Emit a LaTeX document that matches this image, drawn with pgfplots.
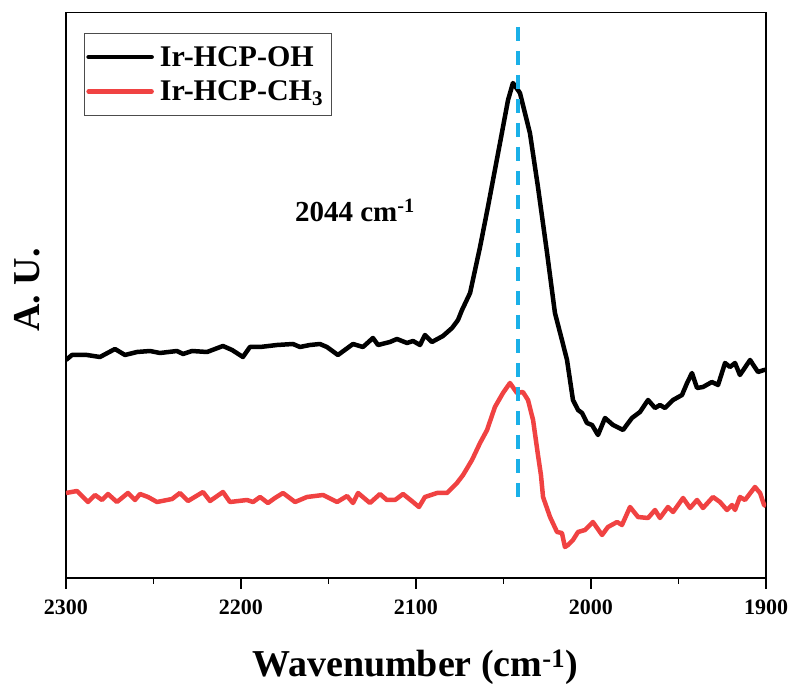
\documentclass[border=0pt]{standalone}
\usepackage{fontspec}
\setmainfont{Liberation Serif}
\usepackage{pgfplots}
\pgfplotsset{compat=1.18}
\definecolor{redline}{RGB}{240,66,66}
\definecolor{dashblue}{RGB}{26,176,232}
\begin{document}
\begin{tikzpicture}
\path[use as bounding box] (-66pt,-106pt) rectangle (728pt,578pt);
\begin{axis}[
  at={(0pt,0pt)}, anchor=south west,
  scale only axis, width=700pt, height=565.5pt,
  xmin=1900, xmax=2300, x dir=reverse,
  ymin=0, ymax=565.5,
  ytick=\empty,
  xtick={1900,2000,2100,2200,2300},
  minor xtick={1950,2050,2150,2250},
  xtick pos=left,
  tick align=outside,
  major tick length=11pt, minor tick length=6pt,
  xtick style={black, line width=1.5pt},
  axis line style={line width=1.5pt},
  /pgf/number format/assume math mode=true,
  /pgf/number format/set thousands separator={},
  xticklabel style={font=\fontsize{22}{22}\selectfont\bfseries, yshift=-7pt},
  xlabel={Wavenumber (cm\textsuperscript{-1})},
  ylabel={A. U.},
  xlabel style={font=\fontsize{38}{38}\selectfont\bfseries, at={(axis description cs:0.4986,-0.1750)}, anchor=base},
  ylabel style={font=\fontsize{38}{38}\selectfont\bfseries, at={(axis description cs:-0.0557,0.509)}, anchor=center},
  legend style={at={(rel axis cs:0.0257,0.9637)}, anchor=north west, draw=black!70, line width=0.8pt,
    font=\fontsize{30}{30}\selectfont\bfseries, inner xsep=2pt, inner ysep=8pt, row sep=3pt,
    nodes={inner xsep=6pt, inner ysep=5pt}},
  legend cell align=left,
  legend image code/.code={\draw[#1, line cap=round] (0pt,0pt) -- (63pt,0pt);},
]
\addplot[black, line width=4.5pt, line join=round] coordinates {
(2300,218) (2296.6,223) (2288.0,223) (2280.6,221) (2272.0,229) (2266.3,223) (2259.4,226) (2252.0,227) (2246.3,225) (2236.6,227) (2233.1,224) (2228.0,227) (2219.4,226) (2210.3,232) (2205.1,228) (2198.9,221) (2194.9,231) (2189.1,231) (2179.4,233) (2170.3,234) (2166.3,231) (2160.6,233) (2154.9,234) (2150.9,231) (2144.6,223) (2136.0,234) (2130.3,231) (2124.6,240) (2121.7,233) (2114.9,236) (2110.9,239) (2105.1,235) (2101.7,237) (2097.7,233) (2094.9,243) (2090.9,236) (2084.6,242) (2079.4,250) (2076.0,258) (2073.7,268) (2069.1,285) (2063.4,331) (2058.9,371) (2052.0,435) (2047.4,478) (2044.6,495) (2040.6,485) (2034.9,445) (2030.3,391) (2025.1,325) (2020.6,265) (2016.6,238) (2013.7,218) (2010.3,178) (2007.4,168) (2005.1,165) (2002.3,155) (1999.4,153) (1996.0,143) (1992.0,160) (1987.4,153) (1981.7,148) (1976.6,160) (1972.0,166) (1967.4,178) (1963.4,170) (1960.6,173) (1957.7,170) (1953.1,178) (1948.0,183) (1945.1,195) (1942.3,205) (1939.4,190) (1936.0,191) (1930.9,196) (1927.4,193) (1923.4,215) (1920.6,211) (1917.7,215) (1914.9,203) (1909.1,218) (1904.6,206) (1901.1,208) (1900,208)
};
\addlegendentry{Ir-HCP-OH}
\addplot[redline, line width=4.5pt, line join=round] coordinates {
(2300,85) (2293.7,87) (2287.4,76) (2283.4,83) (2279.4,78) (2276.0,84) (2270.9,76) (2264.6,85) (2260.6,78) (2257.7,84) (2253.1,81) (2248.0,76) (2239.4,79) (2234.9,85) (2230.3,77) (2221.7,86) (2217.7,77) (2210.3,86) (2206.3,76) (2196.6,78) (2193.1,76) (2189.1,81) (2184.6,75) (2180.6,80) (2176.0,85) (2169.1,76) (2162.3,81) (2153.1,83) (2145.1,76) (2139.4,82) (2136.0,75) (2133.1,85) (2126.3,75) (2120.6,84) (2116.6,78) (2112.0,78) (2107.4,84) (2101.7,76) (2098.3,71) (2094.9,81) (2088.0,85) (2082.3,85) (2076.6,95) (2073.1,103) (2068.0,118) (2063.4,135) (2059.4,148) (2054.9,171) (2050.3,185) (2046.3,195) (2042.3,185) (2038.9,186) (2036.0,178) (2033.1,158) (2030.3,123) (2028.6,103) (2027.4,81) (2023.4,61) (2019.4,46) (2016.6,45) (2014.9,31) (2013.1,33) (2010.3,38) (2007.4,46) (2003.4,48) (1998.9,56) (1993.7,43) (1990.3,51) (1985.1,56) (1982.3,53) (1977.7,71) (1973.1,61) (1967.4,60) (1963.4,68) (1960.6,60) (1956.0,71) (1953.1,66) (1947.4,80) (1943.4,70) (1939.4,78) (1936.0,70) (1930.3,81) (1926.3,76) (1922.3,68) (1919.4,73) (1917.7,68) (1914.9,81) (1912.0,78) (1906.3,91) (1903.4,85) (1901.1,73) (1900,72)
};
\addlegendentry{Ir-HCP-CH\textsubscript{3}}
\addplot[dashblue, line width=4pt, dash pattern=on 14pt off 10pt, forget plot] coordinates {(2041.7,551) (2041.7,78)};
\node[font=\fontsize{29}{29}\selectfont\bfseries] at (axis cs:2134.9,368) {2044 cm\textsuperscript{-1}};
\end{axis}
\end{tikzpicture}
\end{document}
